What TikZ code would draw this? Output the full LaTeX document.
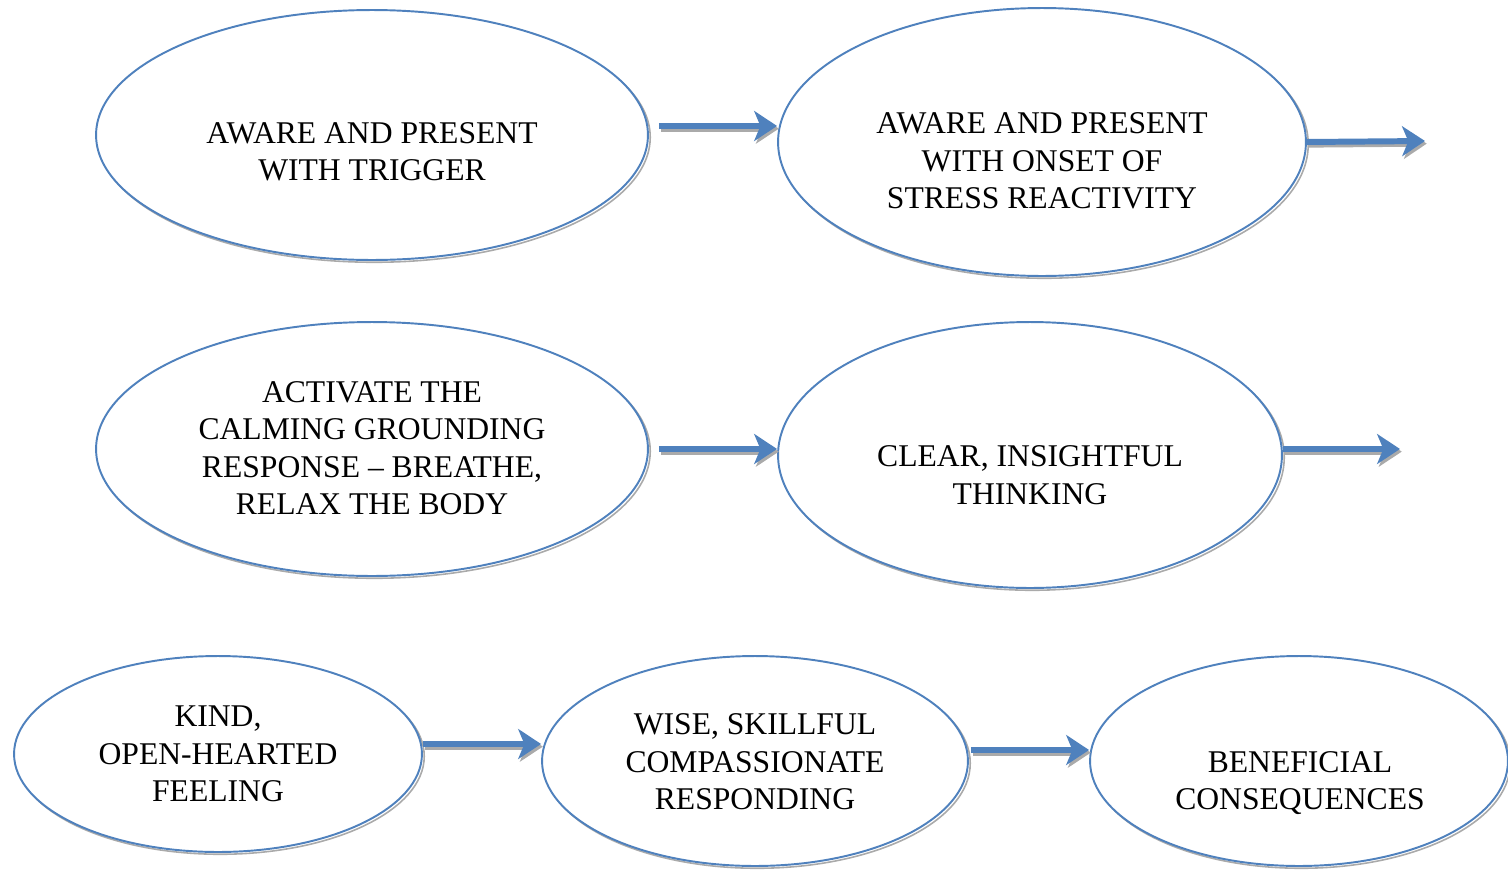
\documentclass[tikz,border=0pt]{standalone}
\usepackage{fontspec}
\setmainfont{Liberation Serif}
\usetikzlibrary{shapes.geometric,arrows.meta}

\definecolor{ovalblue}{RGB}{79,129,189}
\definecolor{shadowgray}{RGB}{170,170,170}

\tikzset{
  bubble/.style={ellipse,draw=ovalblue,line width=1.1pt,fill=white,inner sep=0pt,
    preaction={draw=shadowgray,line width=0.9pt,transform canvas={shift={(1.3pt,-1.3pt)}}}},
  caption/.style={align=center,inner sep=0pt,font=\fontsize{18}{21.3}\selectfont},
  flow/.style={draw=ovalblue,line width=3.4pt,-{Stealth[length=13pt,width=17pt,inset=3.5pt]},
    preaction={draw=shadowgray,line width=3.4pt,-{Stealth[length=13pt,width=17pt,inset=3.5pt]},
      transform canvas={shift={(1pt,-1.5pt)}}}}
}

\begin{document}
\begin{tikzpicture}[x=0.02cm,y=-0.02cm]

        \useasboundingbox (0,0) rectangle (1508,869);

        \begin{scope}[every node/.style={bubble}]
          \node[minimum width=11.04cm,minimum height=5cm]    (1) at (372,135)  {};
          \node[minimum width=10.56cm,minimum height=5.36cm] (2) at (1042,142) {};
          \node[minimum width=11.04cm,minimum height=5.08cm] (3) at (372,449)  {};
          \node[minimum width=10.08cm,minimum height=5.32cm] (4) at (1030,455) {};
          \node[minimum width=8.16cm,minimum height=3.92cm]  (5) at (218,754)  {};
          \node[minimum width=8.52cm,minimum height=4.2cm]   (6) at (755,761)  {};
          \node[minimum width=8.36cm,minimum height=4.2cm]   (7) at (1299,761) {};
        \end{scope}

        \begin{scope}[every node/.style={caption}]
          \node (t1) at (372,152)  {AWARE AND PRESENT\\WITH TRIGGER};
          \node (t2) at (1042,161) {AWARE AND PRESENT\\WITH ONSET OF\\STRESS REACTIVITY};
          \node (t3) at (372,448)  {ACTIVATE THE\\CALMING GROUNDING\\RESPONSE -- BREATHE,\\RELAX THE BODY};
          \node (t4) at (1030,475) {CLEAR, INSIGHTFUL\\THINKING};
          \node (t5) at (218,754)  {KIND,\\OPEN-HEARTED\\FEELING};
          \node (t6) at (755,762)  {WISE, SKILLFUL\\COMPASSIONATE\\RESPONDING};
          \node (t7) at (1300,783) {BENEFICIAL\\CONSEQUENCES};
        \end{scope}

        \coordinate (a1) at ([shift={(10,-9)}]1.east);
        \coordinate (a2) at (1425,141);
        \coordinate (a3) at ([shift={(10,0)}]3.east);
        \coordinate (a4) at (1400,449);
        \coordinate (a5) at ([shift={(0,-10)}]5.east);
        \coordinate (a6) at ([shift={(2,-11)}]6.east);

        \begin{scope}[every edge/.style={flow}]
          \path (a1)          edge (a1 -| 2.west);
          \path (2.east)      edge (a2);
          \path (a3)          edge (a3 -| 4.west);
          \path (4.east |- a4) edge (a4);
          \path (a5)          edge (a5 -| 6.west);
          \path (a6)          edge (a6 -| 7.west);
        \end{scope}

      \end{tikzpicture}
\end{document}
